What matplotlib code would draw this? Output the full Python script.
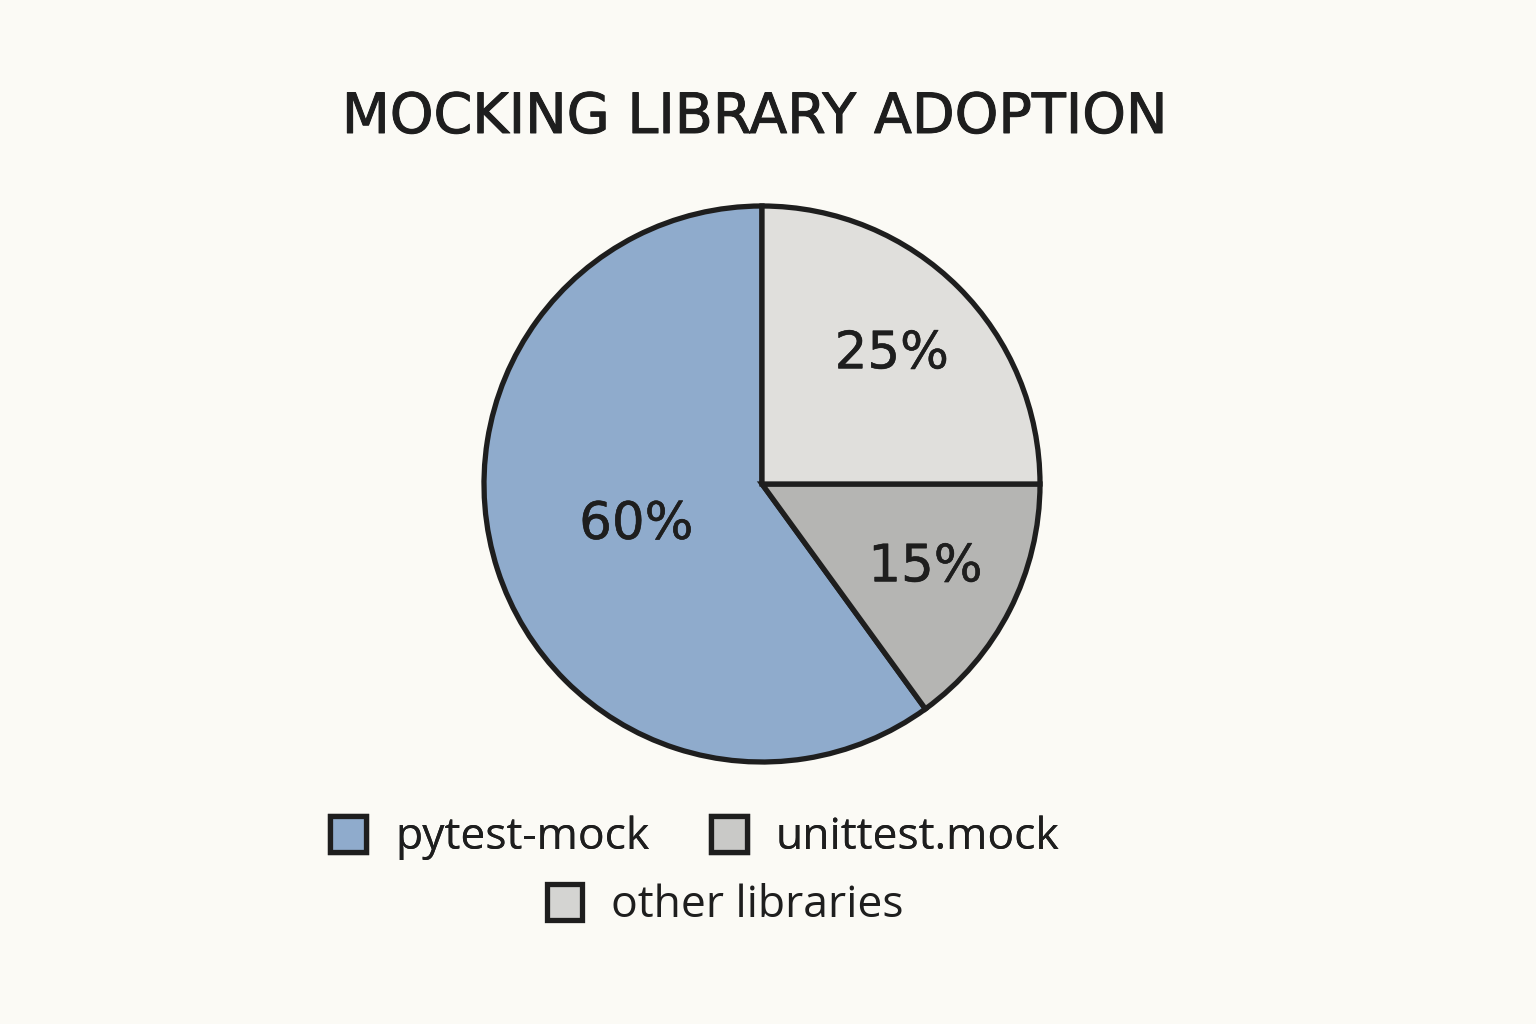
import matplotlib.pyplot as plt
import matplotlib.patheffects as pe
from matplotlib.patches import Patch

# dados
libraries = ["pytest-mock", "unittest.mock", "other libraries"]
shares = [60, 15, 25]
colors = ["#8fabcc", "#b5b5b3", "#e0dfdc"]
legend_colors = ["#8fabcc", "#c9c9c7", "#d4d4d2"]

bg = "#fbfaf5"
ink = "#1e1e1e"

plt.rcParams['font.family'] = ['Open Sans', 'DejaVu Sans']

fig = plt.figure(figsize=(15.36, 10.24), dpi=100, facecolor=bg)

# eixo da pizza: centro ~ (762, 484) px, raio ~ 278 px
r_px = 278
half = r_px * 1.1
ax = fig.add_axes([(762 - half) / 1536, (1024 - 484 - half) / 1024,
                   2 * half / 1536, 2 * half / 1024])
ax.set_facecolor(bg)

wedges, texts, autotexts = ax.pie(
    shares, colors=colors, startangle=90, counterclock=True,
    autopct=lambda p: f"{p:.0f}%", pctdistance=0.66,
    wedgeprops=dict(edgecolor=ink, linewidth=3.8, joinstyle='miter'),
    textprops=dict(fontsize=37, color=ink, family=['DejaVu Sans']),
)
for t in autotexts:
    t.set_path_effects([pe.withStroke(linewidth=0.4, foreground=ink)])
# 60% fica mais perto do centro
x, y = autotexts[0].get_position()
autotexts[0].set_position((x * 0.72, y * 0.72))

ax.set_xlim(-1.1, 1.1)
ax.set_ylim(-1.1, 1.1)
ax.set_aspect('equal')
ax.axis('off')

title = fig.text(755 / 1536, 1 - 118 / 1024, "MOCKING LIBRARY ADOPTION", ha='center', va='center',
                 fontsize=40, color=ink, family=['DejaVu Sans'])
title.set_path_effects([pe.withStroke(linewidth=0.7, foreground=ink)])

handles = [Patch(facecolor=c, edgecolor=ink, linewidth=3.8, label=l)
           for c, l in zip(legend_colors, libraries)]

leg1 = fig.legend(handles=handles[:2], ncol=2, loc='center',
                  bbox_to_anchor=(695 / 1536, 1 - 838 / 1024), frameon=False,
                  fontsize=32, handlelength=0.8, handleheight=0.85,
                  handletextpad=0.65, columnspacing=1.4, labelcolor=ink)
fig.add_artist(leg1)
leg2 = fig.legend(handles=handles[2:], loc='center',
                  bbox_to_anchor=(725 / 1536, 1 - 906 / 1024), frameon=False,
                  fontsize=32, handlelength=0.8, handleheight=0.85,
                  handletextpad=0.65, labelcolor=ink)

fig.savefig("out.png", dpi=100, facecolor=bg)
